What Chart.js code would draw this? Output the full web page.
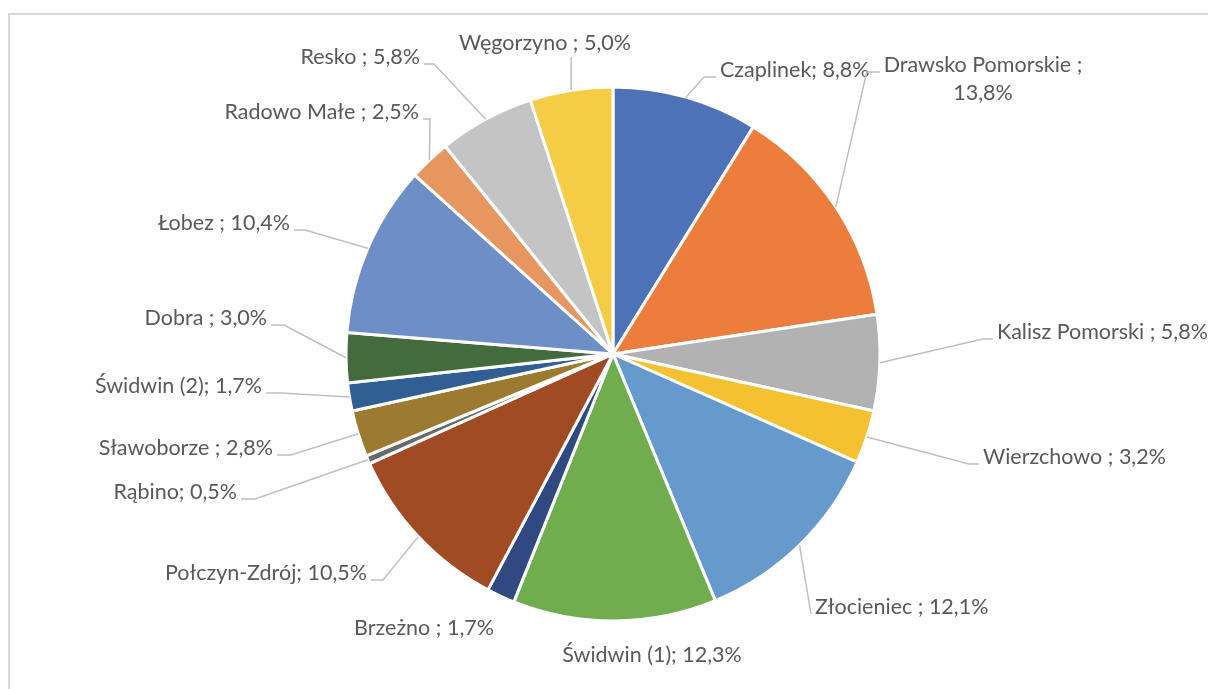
<!DOCTYPE html>
<html>
<head>
<meta charset="utf-8">
<script src="https://cdn.jsdelivr.net/npm/chart.js@4/dist/chart.umd.min.js"></script>
<style>
    html, body { margin: 0; padding: 0; background: #fff; overflow: hidden; }
    #frame {
        position: absolute; left: 8px; top: 13px;
        width: 1400px; height: 900px;
        border: 2px solid #d9d9d9; box-sizing: border-box;
    }
    #chart { position: absolute; left: 0; top: 0; }
</style>
</head>
<body>
<div id="frame"></div>
<canvas id="chart" width="1208" height="689"></canvas>
<script>
// Gminy - udział procentowy
const gminy = [
    'Czaplinek', 'Drawsko Pomorskie', 'Kalisz Pomorski', 'Wierzchowo', 'Złocieniec',
    'Świdwin (1)', 'Brzeżno', 'Połczyn-Zdrój', 'Rąbino', 'Sławoborze',
    'Świdwin (2)', 'Dobra', 'Łobez', 'Radowo Małe', 'Resko', 'Węgorzyno'
];
const udzial = [8.8, 13.8, 5.8, 3.2, 12.1, 12.3, 1.7, 10.5, 0.5, 2.8, 1.7, 3.0, 10.4, 2.5, 5.8, 5.0];
// label text as shown next to each slice (separator differs per label)
const opisy = [
    'Czaplinek; 8,8%', ['Drawsko Pomorskie ;', '13,8%'], 'Kalisz Pomorski ; 5,8%', 'Wierzchowo ; 3,2%',
    'Złocieniec ; 12,1%', 'Świdwin (1); 12,3%', 'Brzeżno ; 1,7%', 'Połczyn-Zdrój; 10,5%',
    'Rąbino; 0,5%', 'Sławoborze ; 2,8%', 'Świdwin (2); 1,7%', 'Dobra ; 3,0%',
    'Łobez ; 10,4%', 'Radowo Małe ; 2,5%', 'Resko ; 5,8%', 'Węgorzyno ; 5,0%'
];
const kolory = [
    '#4d72b8', '#ed7d3c', '#b2b2b2', '#f4c130', '#6699cc', '#70ad4e', '#2f4a80', '#a04b24',
    '#6a6a6a', '#9c7a30', '#2f5f93', '#446b3e', '#6d8ec6', '#e8965f', '#c4c4c4', '#f5cc45'
];

// label placement: anchor x, middle y, text align, leader side, stub length
const LABEL_POS = [
    { x: 720, y: 70, align: 'left', side: 'L', stub: 12 },
    { x: 983, y: 65, align: 'center', side: 'L', stub: 13, lh: 28 },
    { x: 997, y: 332, align: 'left', side: 'L', stub: 10 },
    { x: 983, y: 457, align: 'left', side: 'L', stub: 10 },
    { x: 815, y: 607, align: 'left', side: 'L', stub: 0 },
    { x: 652, y: 655, align: 'center', side: '' },
    { x: 424, y: 628, align: 'center', side: '' },
    { x: 367, y: 573, align: 'right', side: 'R', stub: 12 },
    { x: 237, y: 492, align: 'right', side: 'R', stub: 14 },
    { x: 273, y: 448, align: 'right', side: 'R', stub: 14 },
    { x: 262, y: 386, align: 'right', side: 'R', stub: 15 },
    { x: 267, y: 318, align: 'right', side: 'R', stub: 13 },
    { x: 290, y: 223, align: 'right', side: 'R', stub: 11 },
    { x: 419, y: 112, align: 'right', side: 'R', stub: 7 },
    { x: 420, y: 57, align: 'right', side: 'R', stub: 10 },
    { x: 545, y: 43, align: 'center', side: 'B' }
];

const FONT = '21.5px Lato, "Open Sans", sans-serif';

const leaderLabels = {
    id: 'leaderLabels',
    afterDatasetsDraw(chart) {
        const ctx = chart.ctx;
        const arcs = chart.getDatasetMeta(0).data;
        ctx.save();
        ctx.font = FONT;
        ctx.textBaseline = 'middle';
        arcs.forEach((arc, i) => {
            const p = LABEL_POS[i];
            const lines = Array.isArray(opisy[i]) ? opisy[i] : [opisy[i]];
            const w = ctx.measureText(lines[0]).width;
            let left = p.x;
            if (p.align === 'right') left = p.x - w;
            if (p.align === 'center') left = p.x - w / 2;
            const right = left + w;

            // leader line from the slice edge at its mid angle
            const mid = (arc.startAngle + arc.endAngle) / 2;
            const ex = arc.x + Math.cos(mid) * arc.outerRadius;
            const ey = arc.y + Math.sin(mid) * arc.outerRadius;
            let pts = null;
            if (p.side === 'L') {
                const ax = left - 4, ay = p.y + 7;
                pts = [[ax, ay], [ax - p.stub, ay], [ex, ey]];
            } else if (p.side === 'R') {
                const ax = right + 4, ay = p.y + 7;
                pts = [[ax, ay], [ax + p.stub, ay], [ex, ey]];
            } else if (p.side === 'B') {
                pts = [[ex, p.y + 14], [ex, ey]];
            }
            if (pts) {
                ctx.strokeStyle = '#bfbfbf';
                ctx.lineWidth = 1.5;
                ctx.beginPath();
                ctx.moveTo(pts[0][0], pts[0][1]);
                for (let k = 1; k < pts.length; k++) ctx.lineTo(pts[k][0], pts[k][1]);
                ctx.stroke();
            }

            ctx.fillStyle = '#595959';
            ctx.textAlign = p.align;
            lines.forEach((t, k) => {
                ctx.fillText(t, p.x, p.y + k * (p.lh || 0));
            });
        });
        ctx.restore();
    }
};

new Chart(document.getElementById('chart'), {
    type: 'pie',
    data: {
        labels: gminy,
        datasets: [{
            data: udzial,
            backgroundColor: kolory,
            borderColor: '#ffffff',
            borderWidth: 3
        }]
    },
    options: {
        responsive: false,
        animation: false,
        radius: 267,
        layout: { padding: { left: 346, right: 328, top: 87, bottom: 68 } },
        plugins: {
            legend: { display: false },
            tooltip: { enabled: false }
        }
    },
    plugins: [leaderLabels]
});
</script>
</body>
</html>
